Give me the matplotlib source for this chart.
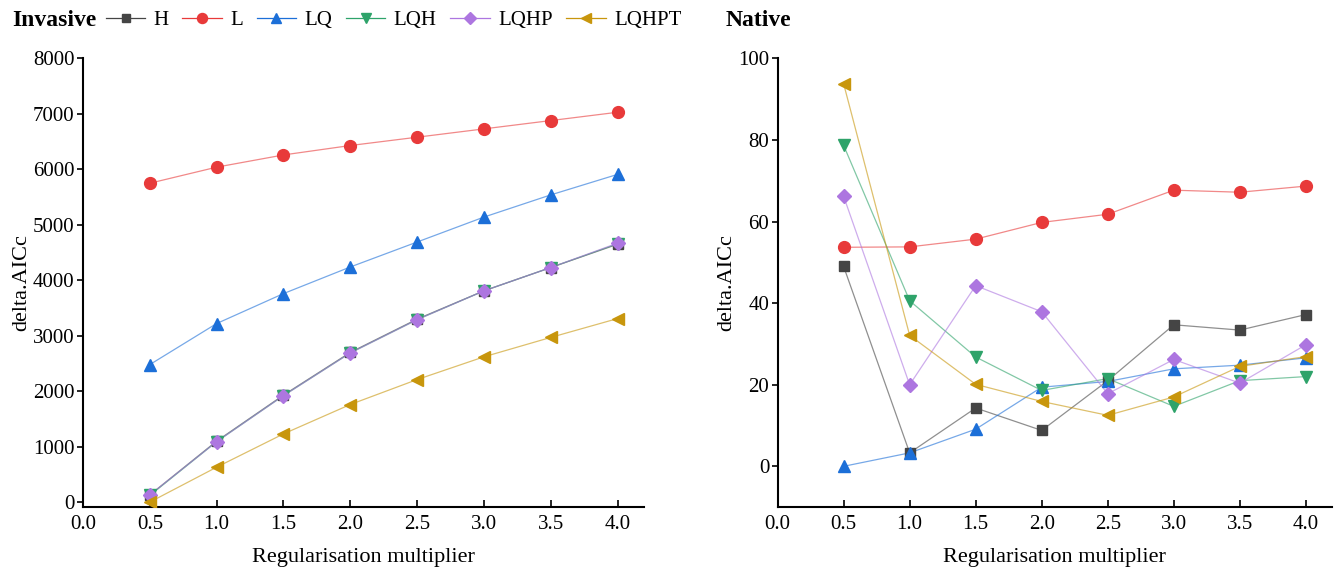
import numpy as np
import matplotlib.pyplot as plt

plt.rcParams["font.family"] = ["Liberation Serif", "DejaVu Serif"]

x = [0.5, 1.0, 1.5, 2.0, 2.5, 3.0, 3.5, 4.0]
names = ["H", "L", "LQ", "LQH", "LQHP", "LQHPT"]
colors = ["#454545", "#e83a3a", "#1c6fd8", "#2ea36a", "#ad76e0", "#c8960c"]
markers = ["s", "o", "^", "v", "D", "<"]
msizes = [7, 8.5, 8.5, 8.5, 7.5, 8.5]

# Invasive delta AICc
inv_H = [130, 1100, 1930, 2700, 3300, 3810, 4230, 4650]
inv_L = [5750, 6040, 6260, 6430, 6580, 6730, 6880, 7030]
inv_LQ = [2480, 3220, 3760, 4240, 4690, 5140, 5540, 5910]
inv_LQH = [120, 1090, 1920, 2690, 3290, 3810, 4230, 4660]
inv_LQHP = [130, 1090, 1920, 2690, 3290, 3810, 4230, 4670]
inv_LQHPT = [0, 630, 1230, 1760, 2210, 2620, 2970, 3310]

# Native delta AICc
nat_H = [49.0, 3.3, 14.3, 8.8, 21.0, 34.7, 33.4, 37.2]
nat_L = [53.7, 53.8, 55.7, 59.8, 61.8, 67.7, 67.2, 68.7]
nat_LQ = [0.0, 3.3, 9.1, 19.4, 20.8, 23.9, 24.8, 26.6]
nat_LQH = [78.7, 40.6, 26.8, 18.6, 21.5, 14.7, 21.0, 22.0]
nat_LQHP = [66.2, 20.0, 44.3, 37.9, 17.8, 26.2, 20.4, 29.8]
nat_LQHPT = [93.8, 32.1, 20.1, 15.9, 12.5, 17.0, 24.5, 26.9]

inv = [inv_H, inv_L, inv_LQ, inv_LQH, inv_LQHP, inv_LQHPT]
nat = [nat_H, nat_L, nat_LQ, nat_LQH, nat_LQHP, nat_LQHPT]

fig = plt.figure(figsize=(13.43, 5.73), dpi=100)
ax1 = fig.add_axes([0.0618, 0.115, 0.418, 0.783])
ax2 = fig.add_axes([0.579, 0.115, 0.413, 0.783])


def draw(ax, data):
    handles = []
    for i in range(len(names)):
        ax.plot(x, data[i], color=colors[i], lw=0.9, alpha=0.6, zorder=2)
        ax.plot(x, data[i], ls="none", marker=markers[i], ms=msizes[i],
                color=colors[i], zorder=3)
        h, = ax.plot([], [], color=colors[i], lw=0.9, marker=markers[i],
                     ms=msizes[i] * 0.85, mfc=colors[i], mec=colors[i])
        handles.append(h)
    ax.set_xlim(0, 4.2)
    ax.set_xticks(np.arange(0, 4.01, 0.5))
    ax.set_xticklabels(["%.1f" % v for v in np.arange(0, 4.01, 0.5)])
    ax.spines["top"].set_visible(False)
    ax.spines["right"].set_visible(False)
    ax.spines["left"].set_linewidth(1.5)
    ax.spines["bottom"].set_linewidth(1.5)
    ax.tick_params(axis="x", direction="in", length=5, width=1.2,
                   labelsize=15, pad=6)
    ax.tick_params(axis="y", direction="out", length=4, width=1.2,
                   labelsize=15, pad=2)
    ax.set_xlabel("Regularisation multiplier", fontsize=16, labelpad=10)
    ax.set_ylabel("delta.AICc", fontsize=16, labelpad=1)
    return handles


hs = draw(ax1, inv)
ax1.set_ylim(-90, 8000)
ax1.set_yticks(np.arange(0, 8001, 1000))

draw(ax2, nat)
ax2.set_ylim(-10, 100)
ax2.set_yticks(np.arange(0, 101, 20))

fig.text(0.009, 0.965, "Invasive", fontsize=17, fontweight="bold",
         va="center", ha="left")
fig.text(0.54, 0.965, "Native", fontsize=17, fontweight="bold",
         va="center", ha="left")
fig.legend(hs, names, loc="center left", bbox_to_anchor=(0.071, 0.965),
           ncol=6, frameon=False, fontsize=15, handlelength=1.9,
           handletextpad=0.4, columnspacing=0.65, borderpad=0)

fig.savefig("out.png", dpi=100)
